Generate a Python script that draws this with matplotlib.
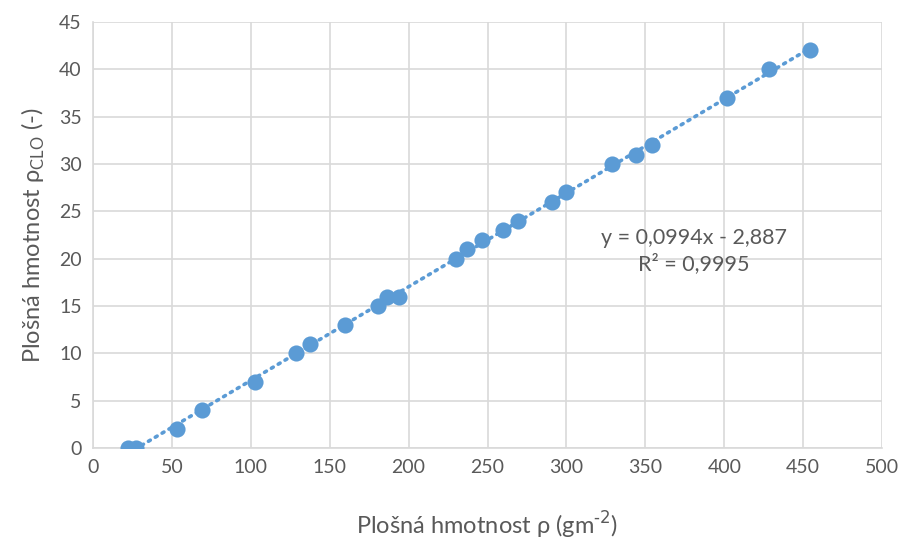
import numpy as np
import matplotlib.pyplot as plt

plt.rcParams['font.family'] = ['Lato', 'DejaVu Sans']

# plosna hmotnost (x) a rho_CLO (y)
x = [22.2, 27.3, 53.3, 69.1, 102.7, 128.7, 137.6, 159.8, 180.7, 186.4, 194.0,
     230.2, 237.2, 246.7, 260.0, 269.5, 291.1, 299.9, 329.1, 344.3, 354.5,
     401.4, 428.0, 454.0]
y = [0, 0, 2, 4, 7, 10, 11, 13, 15, 16, 16,
     20, 21, 22, 23, 24, 26, 27, 30, 31, 32,
     37, 40, 42]

modra = '#5B9BD5'
seda = '#595959'

fig = plt.figure(figsize=(9.02, 5.49), dpi=100)
ax = fig.add_axes([0.103, 0.184, 0.875, 0.776])

# linearni trend
k, q = np.polyfit(x, y, 1)
xt = np.array([min(x), max(x)])
ax.plot(xt, k * xt + q, linestyle=(0, (0.6, 1.6)), color=modra, lw=2.6,
        dash_capstyle='round', zorder=2)

ax.scatter(x, y, s=135, color=modra, zorder=3, linewidths=0)

ax.set_xlim(0, 500)
ax.set_ylim(0, 45)
ax.set_xticks(range(0, 501, 50))
ax.set_yticks(range(0, 46, 5))
ax.grid(True, color='#d9d9d9', lw=1.2)
ax.set_axisbelow(True)
for s in ['top', 'right']:
    ax.spines[s].set_visible(False)
for s in ['left', 'bottom']:
    ax.spines[s].set_color('#d9d9d9')
    ax.spines[s].set_linewidth(1.2)
ax.tick_params(length=0, labelsize=14, colors=seda, pad=8)

ax.set_xlabel('Plošná hmotnost ρ (gm$^{\\text{-2}}$)', fontsize=17,
              color=seda, labelpad=24)
ax.set_ylabel('Plošná hmotnost ρ$_{\\mathregular{CLO}}$ (-)', fontsize=17,
              color=seda, labelpad=9)

ax.text(380.5, 20.8, 'y = 0,0994x - 2,887\nR² = 0,9995', ha='center',
        va='center', fontsize=15.5, color=seda, linespacing=1.35)

fig.savefig('out.png', dpi=100)
